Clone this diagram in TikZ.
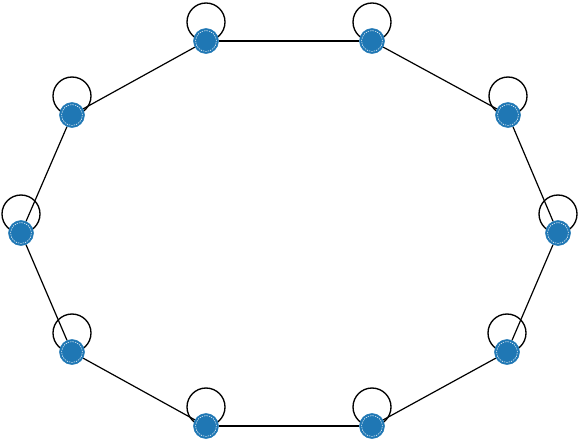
\documentclass[tikz,border=0pt]{standalone}
\usetikzlibrary{backgrounds}
\definecolor{nodeblue}{HTML}{1F77B4}
\begin{document}
\begin{tikzpicture}[x=0.75pt, y=-0.75pt,
    vertex/.style={circle, fill=nodeblue, draw=nodeblue, minimum size=18.75pt,
      inner sep=0pt,
      path picture={\draw[white, dash pattern=on 1pt off 0.8pt, line width=0.4pt]
        (path picture bounding box.center) circle (7.8pt);}},
    selfloop/.style={draw, line width=1pt},
    edge/.style={draw, line width=0.9pt}]
  \useasboundingbox (0,0) rectangle (580,440);
  % ring of vertices
  \node[vertex] (v0) at (206,41) {};
  \node[vertex] (v1) at (372,41) {};
  \node[vertex] (v2) at (508,115) {};
  \node[vertex] (v3) at (558,233) {};
  \node[vertex] (v4) at (507,352) {};
  \node[vertex] (v5) at (372,426) {};
  \node[vertex] (v6) at (206,426) {};
  \node[vertex] (v7) at (72,352) {};
  \node[vertex] (v8) at (21,233) {};
  \node[vertex] (v9) at (72,115) {};
  \begin{scope}[on background layer]
    \foreach \v in {0,...,9}
      \draw[selfloop] (v\v.center) ++(0,-19) circle (14.25pt);
    \foreach \a/\b in {0/1, 1/2, 2/3, 3/4, 4/5, 5/6, 6/7, 7/8, 8/9, 9/0}
      \draw[edge] (v\a) -- (v\b);
  \end{scope}
\end{tikzpicture}
\end{document}
